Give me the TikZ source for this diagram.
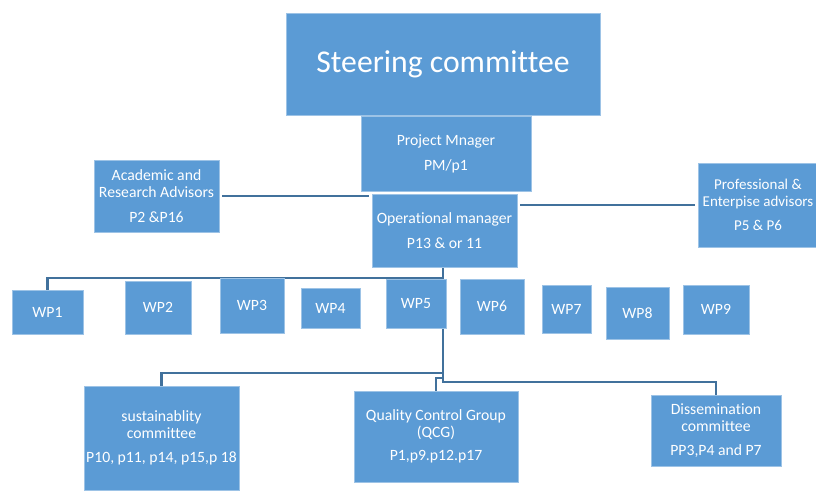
\documentclass[tikz,border=0pt]{standalone}
\usepackage{fontspec}
\setmainfont{Carlito}[Ligatures=NoCommon]
\usetikzlibrary{backgrounds}
\definecolor{boxblue}{HTML}{5B9BD5}
\definecolor{boxedge}{HTML}{9DC3E6}
\definecolor{linkblue}{HTML}{41719C}
\begin{document}
\begin{tikzpicture}[x=1pt,y=-1pt,
  box/.style={fill=boxblue, draw=boxedge, line width=0.7pt, text=white, align=center,
    inner sep=0pt, font=\fontsize{15.7}{17.3}\selectfont},
  link/.style={draw=linkblue, line width=2.2pt}]
\useasboundingbox (0,0) rectangle (816,490);
\clip (0,0) rectangle (816,490);
% junction coordinates
\coordinate (j1) at (443,278);
\coordinate (j2) at (443,382);
\coordinate (j3) at (443,373);
\coordinate (j4) at (436,378);
\path
  (443,64)   node[box, minimum width=314pt, minimum height=102pt, font=\fontsize{31.7}{36}\selectfont] (steer) {Steering committee}
  (446,153.5) node[box, minimum width=170pt, minimum height=75pt] (pm) {Project Mnager\\[7.7pt]PM/p1}
  (444.5,230.5) node[box, minimum width=145pt, minimum height=73pt] (opm) {Operational manager\\[7pt]P13 \& or 11}
  (156.5,196) node[box, minimum width=125pt, minimum height=72pt] (acad) {Academic and\\Research Advisors\\[7pt]P2 \&P16}
  (758,205)  node[box, minimum width=120pt, minimum height=84pt, font=\fontsize{15}{17.3}\selectfont] (prof) {Professional \&\\Enterpise advisors\\[7pt]P5 \& P6}
  (47.5,312) node[box, minimum width=71pt, minimum height=44pt] (wp1) {WP1}
  (158,307.5) node[box, minimum width=66pt, minimum height=53pt] (wp2) {WP2}
  (252,305.5) node[box, minimum width=64pt, minimum height=55pt] (wp3) {WP3}
  (330.5,308) node[box, minimum width=59pt, minimum height=40pt] (wp4) {WP4}
  (416,303.5) node[box, minimum width=60pt, minimum height=49pt] (wp5) {WP5}
  (492,306.5) node[box, minimum width=64pt, minimum height=55pt] (wp6) {WP6}
  (566.5,309) node[box, minimum width=49pt, minimum height=48pt] (wp7) {WP7}
  (637.5,313) node[box, minimum width=63pt, minimum height=52pt] (wp8) {WP8}
  (716,309.5) node[box, minimum width=66pt, minimum height=49pt] (wp9) {WP9}
  (161.5,438) node[box, minimum width=155pt, minimum height=104pt] (sust) {sustainablity\\committee\\[7pt]P10, p11, p14, p15,p 18}
  (436,436.5) node[box, minimum width=164pt, minimum height=91pt] (qcg) {Quality Control Group\\(QCG)\\[6pt]P1,p9.p12.p17}
  (716,430.5) node[box, minimum width=130pt, minimum height=71pt] (diss) {Dissemination\\committee\\[7pt]PP3,P4 and P7};
\begin{pgfonlayer}{background}
  \draw[link] ([xshift=3pt]acad.east) -- ([xshift=-3pt]acad.east -| opm.west);
  \draw[link] ([xshift=-3pt]prof.west) -- ([xshift=3pt]prof.west -| opm.east);
  \draw[link] (j1 |- opm.south) -- (j1) -- (j1 -| wp1.north) -- (wp1.north);
  \draw[link] (j1 |- wp5.south) -- (j2) -- (j2 -| diss.north) -- (diss.north);
  \draw[link] (j3) -- (j3 -| sust.north) -- (sust.north);
  \draw[link] (j4 -| j2) -- (j4) -- (j4 |- qcg.north);
\end{pgfonlayer}
\end{tikzpicture}
\end{document}
